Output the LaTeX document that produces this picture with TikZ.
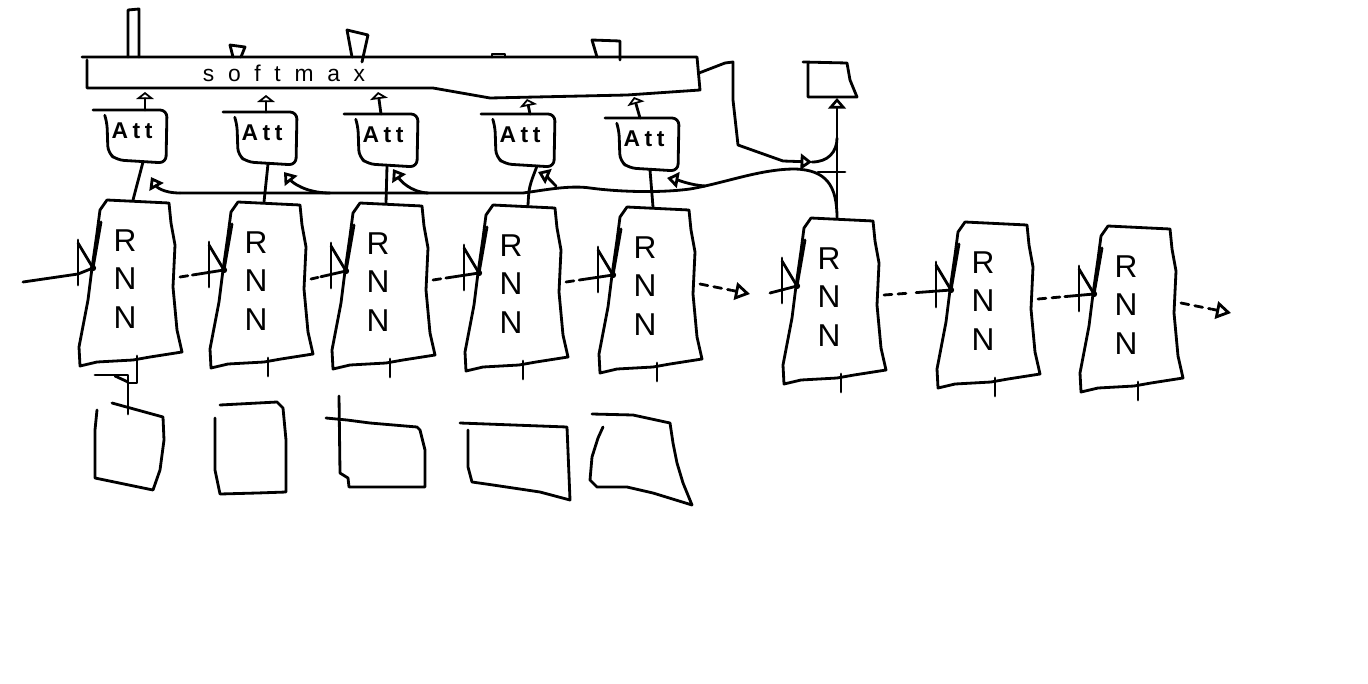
\documentclass[tikz,border=0pt]{standalone}
\usepackage{fontspec}
\setsansfont{Liberation Sans}
\usetikzlibrary{arrows.meta,calc}
\tikzset{
  hand/.style={line width=1.6pt,line join=round,line cap=round},
  dsh/.style={hand,dash pattern=on 4.5pt off 3.5pt},
  upar/.style={-{Triangle[open,length=4pt,width=10pt]}},
  attar/.style={-{Triangle[open,length=6.5pt,width=9pt]}},
  bigar/.style={-{Triangle[open,length=6pt,width=10pt]}},
  endar/.style={-{Triangle[open,length=8.5pt,width=10pt]}},
  rnntext/.style={font=\sffamily\fontsize{18}{22}\selectfont,align=center,inner sep=0pt},
  atttext/.style={font=\sffamily\bfseries\fontsize{13}{15}\selectfont\addfontfeature{LetterSpace=20},inner sep=0pt},
  smtext/.style={font=\sffamily\fontsize{13}{15}\selectfont\addfontfeature{LetterSpace=60},inner sep=0pt}
}
\newcommand{\rnnblock}[3]{%
  \begin{scope}[shift={(#2,#3)}]
    \draw[hand] (0,0) -- (62,3) -- (64,23) -- (68,45) -- (66,87) -- (70,130) -- (75,152)
      -- (43,157) -- (26,160) -- (-10,162) -- (-27,166) -- (-28,147) -- (-19,100)
      -- (-15,68) -- (-10,33) -- (-7,10) -- cycle;
    \node[rnntext] (#1) at (18,79) {R\\N\\N};
    \coordinate (#1-in) at (-14,68);
    \coordinate (#1-out) at (73,77);
    \coordinate (#1-top) at (26,0);
    \coordinate (#1-bot) at (30,156);
    \coordinate (#1-foot) at (30,174);
    \draw[hand] (-29,40) -- (-29,85);
    \draw[hand] (-29,43) -- (#1-in) -- (-6,22);
    \fill (#1-in) circle (1.8pt);
    \draw[hand] (#1-bot) -- (#1-foot);
  \end{scope}}
\newcommand{\attblock}[5]{%
  \begin{scope}[shift={(#2,#3)}]
    \draw[hand,rounded corners=4pt] (-14,0) -- (60,0) -- (59,53) -- (10,50) -- (1,43) -- (0,12) -- (-2,6);
    \node[atttext] (#1) at (25,21) {Att};
    \coordinate (#1-up) at (#4,0);
    \coordinate (#1-down) at (#5,52);
  \end{scope}}
\newcommand{\recurlink}[4]{%
  \draw[dsh] (#1) -- ($(#1)!#3!(#2)$);
  \draw[hand] ($(#1)!#4!(#2)$) -- (#2);}
\begin{document}
\begin{tikzpicture}[x=0.02cm,y=-0.02cm]
\fill[white] (0,0) rectangle (1368,683);
\useasboundingbox (0,0) rectangle (1368,683);

% softmax bar
\draw[hand] (82,57) -- (697,57) -- (700,90) -- (627,95) -- (490,98) -- (433,88) -- (87,88) -- (87,60);
\node[smtext] (sm) at (284,73) {softmax};
\coordinate (s1) at (145,92);
\coordinate (s2) at (266,95);
\coordinate (s3) at (378,92);
\coordinate (s4) at (527,99);
\coordinate (s5) at (634,97);
\coordinate (smR) at (699,73);

% outputs above softmax
\draw[hand] (128,57) -- (128,10) -- (139,9) -- (139,57);
\draw[hand] (233,57) -- (230,45) -- (245,47) -- (241,57);
\draw[hand] (352,57) -- (347,30) -- (368,35) -- (362,62);
\draw[hand] (492,57) -- (492,54) -- (505,54) -- (505,57);
\draw[hand] (597,57) -- (592,40) -- (620,41) -- (620,60);

% attention blocks
\attblock{a1}{107}{110}{38}{36}
\attblock{a2}{237}{112}{29}{31}
\attblock{a3}{358}{114}{23}{29}
\attblock{a4}{495}{114}{35}{42}
\attblock{a5}{619}{118}{21}{31}
\foreach \i in {1,...,5} { \draw[hand,upar] (a\i-up) -- (s\i); }

% RNN blocks
\rnnblock{e1}{107}{200}
\rnnblock{e2}{238}{202}
\rnnblock{e3}{360}{203}
\rnnblock{e4}{493}{205}
\rnnblock{e5}{627}{207}
\rnnblock{d1}{811}{218}
\rnnblock{d2}{965}{222}
\rnnblock{d3}{1108}{226}

% encoder -> attention
\foreach \i in {1,2,3,5} { \draw[hand] (e\i-top) -- (a\i-down); }
\draw[hand] ($(e4-top)+(9,0)$) .. controls ($(e4-top)+(10,-18)$) .. (a4-down);

% decoder state -> attention (trunk and branches)
\coordinate (t1) at (151,177);
\coordinate (t2) at (284,172);
\coordinate (t3) at (393,169);
\coordinate (t4) at (538,172);
\coordinate (t5) at (667,178);
\coordinate (b2) at (330,193);
\coordinate (b3) at (428,193);
\coordinate (b4) at (556,186);
\coordinate (b5) at (705,186);
\coordinate (trunkL) at (180,193);
\draw[hand] (d1-top) .. controls (837,185) and (826,170) .. (795,169)
  .. controls (760,169) and (725,183) .. (690,189)
  .. controls (660,193) and (620,192) .. (590,188)
  .. controls (570,185) and (545,190) .. (523,193) -- (trunkL);
\draw[hand,attar] (trunkL) .. controls (162,193) and (156,186) .. (t1);
\draw[hand,attar] (b2) .. controls (305,193) and (292,182) .. (t2);
\draw[hand,attar] (b3) .. controls (410,192) and (400,180) .. (t3);
\draw[hand,attar] (b4) .. controls (550,180) and (545,175) .. (t4);
\draw[hand,attar] (b5) .. controls (690,185) and (678,180) .. (t5);

% context from softmax to decoder output
\coordinate (ctx) at (812,162);
\coordinate (join) at (837,138);
\draw[hand,attar] (smR) -- (725,63) -- (733,62) -- (733,100) -- (738,145) -- (783,161) -- (ctx);
\draw[hand] (ctx) .. controls (828,162) and (837,152) .. (join);
\draw[hand] (818,172) -- (845,172);

% decoder output box
\draw[hand] (803,62) -- (847,63) -- (850,80) -- (857,97) -- (808,97) -- (808,64);
\coordinate (outb) at (837,98);
\draw[hand,bigar] (d1-top) -- (outb);

% recurrent links
\coordinate (x0) at (23,282);
\draw[hand] (x0) -- (78,274) -- (e1-in);
\recurlink{e1-out}{e2-in}{0.2}{0.28}
\recurlink{e2-out}{e3-in}{0.2}{0.28}
\recurlink{e3-out}{e4-in}{0.2}{0.28}
\recurlink{e4-out}{e5-in}{0.2}{0.28}
\coordinate (g1) at (750,294);
\coordinate (g2) at (770,293);
\draw[dsh] (e5-out) -- ($(e5-out)!0.62!(g1)$);
\draw[hand,endar] ($(e5-out)!0.64!(g1)$) -- (g1);
\draw[hand] (g2) -- (d1-in);
\recurlink{d1-out}{d2-in}{0.4}{0.48}
\recurlink{d2-out}{d3-in}{0.4}{0.48}
\coordinate (g3) at (1231,313);
\draw[dsh] (d3-out) -- ($(d3-out)!0.6!(g3)$);
\draw[hand,endar] ($(d3-out)!0.62!(g3)$) -- (g3);

% inputs
\draw[hand] (e1-foot) -- (137,383) -- (128,383);
\draw[hand] (95,375) -- (128,375) -- (128,414);
\draw[hand] (115,376) -- (128,382);
\draw[hand] (112,403) -- (163,417) -- (164,440) -- (160,470) -- (153,490) -- (95,478) -- (95,430) -- (97,410);
\draw[hand] (220,405) -- (277,402) -- (283,408) -- (286,440) -- (286,492) -- (257,493) -- (220,494) -- (215,470) -- (215,418);
\draw[hand] (339,396) -- (340,473) -- (348,478) -- (349,487) -- (425,487) -- (425,450) -- (420,430) -- (417,427) -- (370,423) -- (347,420) -- (326,418);
\draw[hand] (460,423) -- (567,427) -- (570,500) -- (540,492) -- (493,485) -- (472,482) -- (468,467) -- (468,430);
\draw[hand] (592,414) -- (633,415) -- (670,423) -- (673,443) -- (677,463) -- (683,483) -- (692,505) -- (653,493) -- (627,487) -- (597,487) -- (590,480) -- (592,457) -- (598,438) -- (603,427);
\end{tikzpicture}
\end{document}
